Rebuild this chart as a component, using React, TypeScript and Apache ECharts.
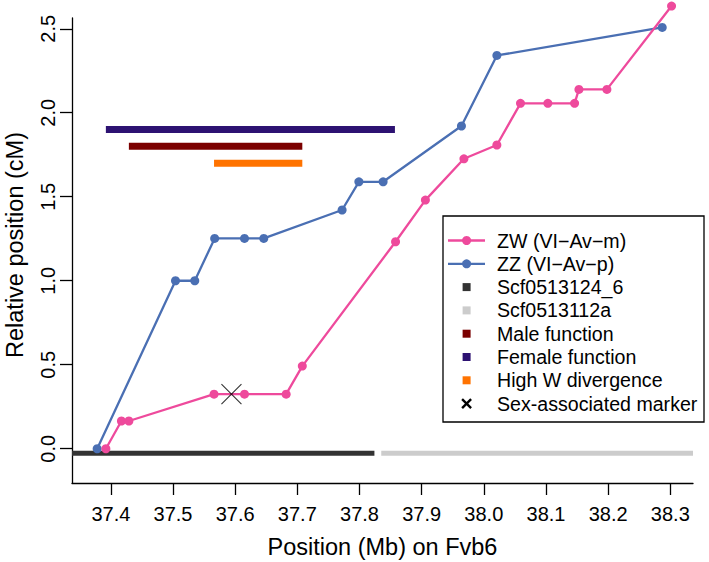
import React, { useEffect, useRef } from "react";
import * as echarts from "echarts";

const xTicks = [37.4, 37.5, 37.6, 37.7, 37.8, 37.9, 38.0, 38.1, 38.2, 38.3];
const yTicks = [0, 0.5, 1.0, 1.5, 2.0, 2.5];

const zwPositions = [37.392, 37.417, 37.429, 37.566, 37.615, 37.682, 37.708, 37.858, 37.906, 37.968, 38.021, 38.059, 38.103, 38.146, 38.153, 38.198, 38.302];
const zwCM = [0, 0.165, 0.165, 0.325, 0.325, 0.325, 0.492, 1.232, 1.48, 1.726, 1.808, 2.056, 2.056, 2.056, 2.139, 2.139, 2.635];

const zzPositions = [37.378, 37.504, 37.535, 37.567, 37.615, 37.646, 37.772, 37.799, 37.838, 37.964, 38.021, 38.287];
const zzCM = [0, 1.0, 1.0, 1.252, 1.252, 1.252, 1.421, 1.589, 1.589, 1.921, 2.341, 2.508];

const regionNames = ["Scf0513124_6", "Scf0513112a", "Male function", "Female function", "High W divergence"];
const regionStart = [37.3375, 37.835, 37.429, 37.392, 37.566];
const regionEnd = [37.824, 38.3365, 37.708, 37.857, 37.708];
const regionLevel = [-0.027, -0.027, 1.8, 1.9, 1.7];
const regionColors = ["#333333", "#CCCCCC", "#7B0000", "#2D1272", "#FF7300"];
const regionWidths = [5, 5, 7, 7, 7];

const markerPositions = [37.594];
const markerCM = [0.325];

const legendLabels = ["ZW (VI\u2212Av\u2212m)", "ZZ (VI\u2212Av\u2212p)", "Scf0513124_6", "Scf0513112a", "Male function", "Female function", "High W divergence", "Sex-associated marker"];

const PINK = "#EE4A9C";
const BLUE = "#4A6FB3";
const FONT = "'Liberation Sans', Arial, Helvetica, sans-serif";

export default function App() {
  const ref = useRef<HTMLDivElement>(null);
  useEffect(() => {
    if (!ref.current) return;
    const chart = echarts.init(ref.current, undefined, { renderer: "svg" });

    const regionSeries = regionNames.map((name, i) => ({
      name,
      type: "line",
      data: [
        [regionStart[i], regionLevel[i]],
        [regionEnd[i], regionLevel[i]],
      ],
      symbol: "none",
      silent: true,
      lineStyle: { color: regionColors[i], width: regionWidths[i], cap: "butt" },
      z: 2,
    }));

    const legendX = 443;
    const legendY = 216;
    const rowY = (i: number) => 240.5 + i * 23.3;
    const iconX = 466.6;
    const legendIcons: any[] = [];
    const legendColors = [PINK, BLUE, "#333333", "#CCCCCC", "#7B0000", "#2D1272", "#FF7300"];
    legendLabels.forEach((label, i) => {
      const y = rowY(i);
      if (i < 2) {
        legendIcons.push({
          type: "line",
          shape: { x1: 448, y1: y, x2: 485, y2: y },
          style: { stroke: legendColors[i], lineWidth: 2.3 },
        });
        legendIcons.push({
          type: "circle",
          shape: { cx: iconX, cy: y, r: 4.5 },
          style: { fill: legendColors[i] },
        });
      } else if (i < 7) {
        legendIcons.push({
          type: "rect",
          shape: { x: iconX - 4, y: y - 4, width: 8, height: 8 },
          style: { fill: legendColors[i] },
        });
      } else {
        legendIcons.push({
          type: "line",
          shape: { x1: iconX - 4.5, y1: y - 4.5, x2: iconX + 4.5, y2: y + 4.5 },
          style: { stroke: "#000", lineWidth: 2.4 },
        });
        legendIcons.push({
          type: "line",
          shape: { x1: iconX - 4.5, y1: y + 4.5, x2: iconX + 4.5, y2: y - 4.5 },
          style: { stroke: "#000", lineWidth: 2.4 },
        });
      }
      legendIcons.push({
        type: "text",
        x: 497,
        y,
        style: {
          text: label,
          fontSize: 19.6,
          fontFamily: FONT,
          fill: "#000",
          verticalAlign: "middle",
          align: "left",
        },
      });
    });

    const option: any = {
      animation: false,
      backgroundColor: "#ffffff",
      grid: { left: 72, right: 16, top: 18, bottom: 79, containLabel: false },
      xAxis: {
        type: "value",
        min: 37.3375,
        max: 38.3365,
        splitLine: { show: false },
        axisLine: { show: true, onZero: false, lineStyle: { color: "#000", width: 1.3 } },
        axisTick: { show: true, length: 12, customValues: xTicks, lineStyle: { color: "#000", width: 1.3 } },
        axisLabel: {
          customValues: xTicks,
          formatter: (v: number) => v.toFixed(1),
          fontSize: 20,
          fontFamily: FONT,
          color: "#000",
          margin: 21,
        },
      },
      yAxis: {
        type: "value",
        min: -0.204,
        max: 2.564,
        splitLine: { show: false },
        axisLine: { show: true, onZero: false, lineStyle: { color: "#000", width: 1.3 } },
        axisTick: { show: true, length: 12, customValues: yTicks, lineStyle: { color: "#000", width: 1.3 } },
        axisLabel: {
          customValues: yTicks,
          formatter: (v: number) => v.toFixed(1),
          fontSize: 20,
          fontFamily: FONT,
          color: "#000",
          rotate: 90,
          margin: 14,
        },
      },
      series: [
        ...regionSeries,
        {
          name: legendLabels[1],
          type: "line",
          data: zzPositions.map((x, i) => [x, zzCM[i]]),
          symbol: "circle",
          symbolSize: 9,
          clip: false,
          lineStyle: { color: BLUE, width: 2.3 },
          itemStyle: { color: BLUE },
          z: 3,
        },
        {
          name: legendLabels[0],
          type: "line",
          data: zwPositions.map((x, i) => [x, zwCM[i]]),
          symbol: "circle",
          symbolSize: 9,
          clip: false,
          lineStyle: { color: PINK, width: 2.3 },
          itemStyle: { color: PINK },
          z: 4,
        },
        {
          name: legendLabels[7],
          type: "scatter",
          data: markerPositions.map((x, i) => [x, markerCM[i]]),
          symbol: "path://M0,0L10,10M10,0L0,10",
          symbolSize: 20,
          itemStyle: { color: "none", borderColor: "#000", borderWidth: 1.1 },
          z: 5,
        },
      ],
      graphic: [
        {
          type: "text",
          x: 382.5,
          y: 547,
          style: {
            text: "Position (Mb) on Fvb6",
            fontSize: 23.5,
            fontFamily: FONT,
            fill: "#000",
            align: "center",
            verticalAlign: "middle",
          },
        },
        {
          type: "text",
          x: 15,
          y: 245,
          rotation: Math.PI / 2,
          style: {
            text: "Relative position (cM)",
            fontSize: 23.5,
            fontFamily: FONT,
            fill: "#000",
            align: "center",
            verticalAlign: "middle",
          },
        },
        {
          type: "group",
          children: [
            {
              type: "rect",
              shape: { x: legendX, y: legendY, width: 261, height: 206 },
              style: { fill: "#fff", stroke: "#000", lineWidth: 1.3 },
            },
            ...legendIcons,
          ],
        },
      ],
    };
    chart.setOption(option);
    return () => chart.dispose();
  }, []);

  return (
    <div
      ref={ref}
      style={{ position: "absolute", left: 0, top: 0, width: 709, height: 562 }}
    />
  );
}
